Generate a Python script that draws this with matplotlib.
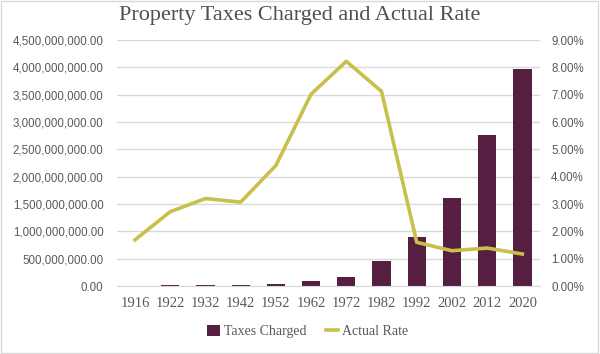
import matplotlib
matplotlib.use("Agg")
import matplotlib.pyplot as plt
from matplotlib.ticker import FuncFormatter, MultipleLocator
from matplotlib.lines import Line2D
from matplotlib.patches import Patch
import numpy as np

years = ["1916", "1922", "1932", "1942", "1952", "1962", "1972", "1982", "1992", "2002", "2012", "2020"]
taxes = [9e6, 13e6, 15e6, 15e6, 32e6, 95e6, 165e6, 460e6, 890e6, 1610e6, 2765e6, 3975e6]
rate = [1.69, 2.72, 3.20, 3.07, 4.41, 7.02, 8.22, 7.12, 1.60, 1.29, 1.39, 1.17]

bar_color = "#561f42"
line_color = "#c9c04b"
grid_color = "#d9d9d9"
text_color = "#595959"
serif = ["Liberation Serif", "DejaVu Serif"]
sans = ["Liberation Sans", "DejaVu Sans"]

fig = plt.figure(figsize=(6, 3.54), dpi=100)
ax = fig.add_axes([0.1957, 0.192, 0.7043, 0.695])
ax2 = ax.twinx()

x = np.arange(len(years))
ax.bar(x, taxes, width=0.52, color=bar_color, zorder=2)
ax2.plot(x, rate, color=line_color, lw=2.6, solid_joinstyle="round", zorder=3)

ax.set_ylim(0, 4.5e9)
ax2.set_ylim(0, 9)
ax.set_xlim(-0.5, len(years) - 0.5)
ax.yaxis.set_major_locator(MultipleLocator(5e8))
ax2.yaxis.set_major_locator(MultipleLocator(1))
ax.yaxis.set_major_formatter(FuncFormatter(lambda v, p: f"{v:,.2f}"))
ax2.yaxis.set_major_formatter(FuncFormatter(lambda v, p: f"{v:.2f}%"))
ax.set_xticks(x)
ax.set_xticklabels(years, family=serif, fontsize=10.5, color=text_color)
for lab in ax.get_yticklabels() + ax2.get_yticklabels():
    lab.set_family(sans)

ax.grid(axis="y", color=grid_color, lw=1, zorder=0)
ax.set_axisbelow(True)
for a in (ax, ax2):
    for s in a.spines.values():
        s.set_visible(False)
ax.spines["bottom"].set_visible(True)
ax.spines["bottom"].set_color(grid_color)
ax.tick_params(axis="y", length=0, pad=10, labelsize=8.3, labelcolor=text_color)
ax2.tick_params(axis="y", length=0, pad=8, labelsize=8.3, labelcolor=text_color)
ax.tick_params(axis="x", length=0, pad=8)

fig.text(0.5, 0.955, "Property Taxes Charged and Actual Rate", ha="center", va="center",
         family=serif, fontsize=16, color="#505050")

handles = [Patch(facecolor=bar_color, edgecolor="none"),
           Line2D([], [], color=line_color, lw=2.6)]
fig.legend(handles, ["Taxes Charged", "Actual Rate"], loc="center", bbox_to_anchor=(0.513, 0.063),
           ncol=2, frameon=False, prop={"family": serif, "size": 10}, labelcolor=text_color,
           handlelength=0.9, handleheight=0.9, handletextpad=0.3, columnspacing=1.4)

fig.patches.append(plt.Rectangle((0.002, 0.003), 0.995, 0.994, transform=fig.transFigure,
                                 fill=False, edgecolor="#d9d9d9", lw=1))
fig.savefig("out.png", dpi=100, facecolor="white")
